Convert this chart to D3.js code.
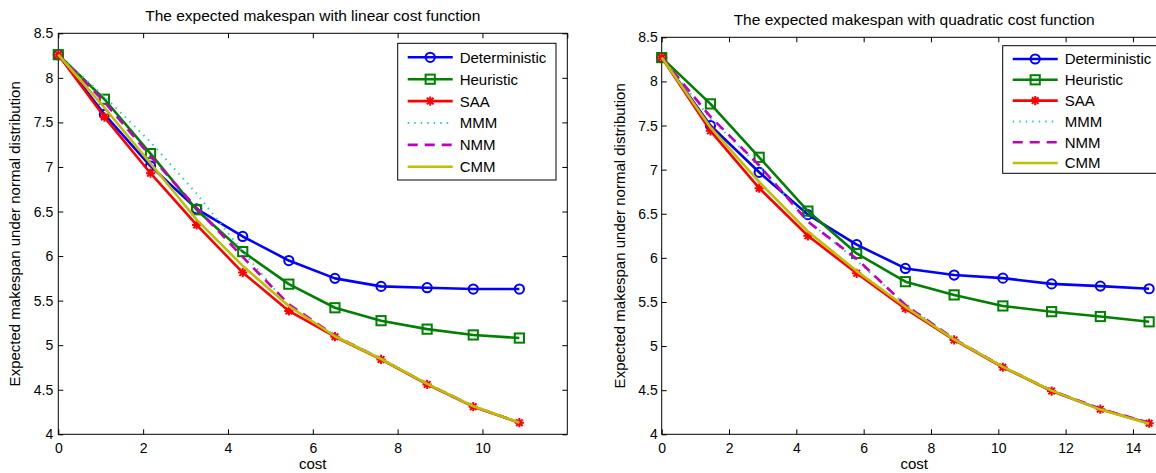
<!DOCTYPE html>
<html lang="en">
<head>
<meta charset="utf-8">
<title>Expected makespan</title>
<script src="https://cdn.jsdelivr.net/npm/d3@7"></script>
<style>
  body { margin: 0; background: #fff; }
  text { font-family: "Liberation Sans", Arial, sans-serif; fill: #000; }
</style>
</head>
<body>
<script>
// cost values
var costLinear = [0, 1.087, 2.174, 3.261, 4.348, 5.435, 6.522, 7.609, 8.696, 9.783, 10.87];
var costQuad = [0, 1.448, 2.896, 4.344, 5.792, 7.24, 8.688, 10.136, 11.584, 13.032, 14.48];

// linear cost function
var detL = [8.26, 7.59, 7.01, 6.53, 6.22, 5.95, 5.75, 5.66, 5.645, 5.63, 5.63];
var heuL = [8.26, 7.76, 7.15, 6.52, 6.05, 5.685, 5.42, 5.275, 5.18, 5.115, 5.08];
var saaL = [8.26, 7.56, 6.93, 6.35, 5.815, 5.385, 5.095, 4.84, 4.56, 4.31, 4.13];
var mmmL = [8.26, 7.79, 7.28, 6.70, 6.05, 5.44, 5.11, 4.85, 4.57, 4.32, 4.135];
var nmmL = [8.26, 7.73, 7.12, 6.54, 5.99, 5.46, 5.105, 4.845, 4.565, 4.315, 4.13];
var cmmL = [8.26, 7.665, 7.04, 6.41, 5.89, 5.44, 5.10, 4.845, 4.565, 4.315, 4.13];

// quadratic cost function
var detR = [8.27, 7.50, 6.97, 6.49, 6.15, 5.88, 5.805, 5.77, 5.705, 5.68, 5.65];
var heuR = [8.27, 7.745, 7.14, 6.53, 6.05, 5.73, 5.58, 5.455, 5.39, 5.335, 5.275];
var saaR = [8.27, 7.44, 6.79, 6.25, 5.825, 5.425, 5.07, 4.76, 4.49, 4.285, 4.125];
var mmmR = [8.27, 7.58, 7.04, 6.42, 5.97, 5.47, 5.085, 4.77, 4.50, 4.29, 4.13];
var nmmR = [8.27, 7.60, 7.05, 6.41, 5.99, 5.465, 5.08, 4.765, 4.495, 4.29, 4.13];
var cmmR = [8.27, 7.48, 6.86, 6.30, 5.85, 5.445, 5.075, 4.765, 4.495, 4.28, 4.12];

var names = ["Deterministic", "Heuristic", "SAA", "MMM", "NMM", "CMM"];
var yTicks = [4, 4.5, 5, 5.5, 6, 6.5, 7, 7.5, 8, 8.5];
var xTicksL = [0, 2, 4, 6, 8, 10, 12];
var xTicksR = [0, 2, 4, 6, 8, 10, 12, 14];

var styles = [
  { color: "#0000ff", dash: null, marker: "circle" },
  { color: "#008000", dash: null, marker: "square" },
  { color: "#ff0000", dash: null, marker: "star" },
  { color: "#33c9c9", dash: "1.5,5", marker: null },
  { color: "#bf00bf", dash: "10,7", marker: null },
  { color: "#bfbf00", dash: null, marker: null }
];

var W = 1156, H = 473;
var svg = d3.select("body").append("svg")
  .attr("width", W).attr("height", H);

function drawMarker(g, kind, cx, cy, color) {
  if (kind == "circle") {
    g.append("circle").attr("cx", cx).attr("cy", cy).attr("r", 4.6)
      .attr("fill", "none").attr("stroke", color).attr("stroke-width", 2);
  } else if (kind == "square") {
    g.append("rect").attr("x", cx - 4.6).attr("y", cy - 4.6)
      .attr("width", 9.2).attr("height", 9.2)
      .attr("fill", "none").attr("stroke", color).attr("stroke-width", 2);
  } else if (kind == "star") {
    var s = 4.6, d = 3.3;
    g.append("path")
      .attr("d", "M" + (cx - s) + "," + cy + "H" + (cx + s) +
                 "M" + cx + "," + (cy - s) + "V" + (cy + s) +
                 "M" + (cx - d) + "," + (cy - d) + "L" + (cx + d) + "," + (cy + d) +
                 "M" + (cx - d) + "," + (cy + d) + "L" + (cx + d) + "," + (cy - d))
      .attr("stroke", color).attr("stroke-width", 2).attr("fill", "none");
  }
}

function panel(p) {
  var x = d3.scaleLinear().domain(p.xDomain).range([p.left, p.right]);
  var y = d3.scaleLinear().domain([4, 8.5]).range([p.bottom, p.top]);
  var g = svg.append("g");

  // axes with inward ticks on all four sides
  var fontSize = "14px";
  g.append("g").attr("transform", "translate(0," + p.bottom + ")")
    .call(d3.axisBottom(x).tickValues(p.xTicks.filter(function(t) { return t < p.xDomain[1]; }))
      .tickSize(-5).tickPadding(9).tickFormat(d3.format("d")))
    .call(function(a) { a.select(".domain").remove(); a.selectAll("text").attr("font-size", fontSize); });
  g.append("g").attr("transform", "translate(0," + p.top + ")")
    .call(d3.axisTop(x).tickValues(p.xTicks).tickSize(-5).tickFormat(""))
    .call(function(a) { a.select(".domain").remove(); });
  g.append("g").attr("transform", "translate(" + p.left + ",0)")
    .call(d3.axisLeft(y).tickValues(yTicks).tickSize(-5).tickPadding(p.yPad)
      .tickFormat(function(d) { return d3.format("")(d); }))
    .call(function(a) { a.select(".domain").remove(); a.selectAll("text").attr("font-size", fontSize); });
  g.append("g").attr("transform", "translate(" + p.right + ",0)")
    .call(d3.axisRight(y).tickValues(yTicks).tickSize(-5).tickFormat(""))
    .call(function(a) { a.select(".domain").remove(); });
  g.selectAll(".tick line").attr("stroke", "#000");
  g.selectAll(".tick text").attr("fill", "#000")
    .attr("font-family", "'Liberation Sans', Arial, sans-serif");

  g.append("rect").attr("x", p.left).attr("y", p.top)
    .attr("width", p.right - p.left).attr("height", p.bottom - p.top)
    .attr("fill", "none").attr("stroke", "#000").attr("stroke-width", 1);

  // series
  var line = d3.line()
    .x(function(d) { return x(d[0]); })
    .y(function(d) { return y(d[1]); });

  p.series.forEach(function(vals, i) {
    var st = styles[i];
    var pts = p.cost.map(function(c, j) { return [c, vals[j]]; });
    g.append("path").datum(pts)
      .attr("d", line)
      .attr("fill", "none")
      .attr("stroke", st.color)
      .attr("stroke-width", st.dash && st.dash.indexOf("1.5") == 0 ? 2 : 2.6)
      .attr("stroke-dasharray", st.dash)
      .attr("stroke-linejoin", "round");
    if (st.marker) {
      pts.forEach(function(d) { drawMarker(g, st.marker, x(d[0]), y(d[1]), st.color); });
    }
  });

  // labels
  g.append("text").attr("x", (p.left + p.right) / 2).attr("y", p.top - 12)
    .attr("text-anchor", "middle").attr("font-size", "15.5px").text(p.title);
  g.append("text").attr("x", (p.left + p.right) / 2).attr("y", 469)
    .attr("text-anchor", "middle").attr("font-size", "15px").text("cost");
  g.append("text")
    .attr("transform", "translate(" + p.yLabelX + "," + ((p.top + p.bottom) / 2) + ") rotate(-90)")
    .attr("text-anchor", "middle").attr("dy", "0.35em").attr("font-size", "15px")
    .text("Expected makespan under normal distribution");

  // legend
  var lg = g.append("g");
  lg.append("rect").attr("x", p.leg.x).attr("y", p.leg.y)
    .attr("width", p.leg.w).attr("height", p.leg.h)
    .attr("fill", "#fff").attr("stroke", "#000").attr("stroke-width", 1);
  names.forEach(function(n, i) {
    var st = styles[i];
    var ly = p.leg.y + p.leg.first + i * p.leg.step;
    var x0 = p.leg.x + 10, x1 = x0 + 45;
    lg.append("line").attr("x1", x0).attr("x2", x1).attr("y1", ly).attr("y2", ly)
      .attr("stroke", st.color)
      .attr("stroke-width", st.dash && st.dash.indexOf("1.5") == 0 ? 2 : 2.6)
      .attr("stroke-dasharray", st.dash);
    if (st.marker) drawMarker(lg, st.marker, (x0 + x1) / 2, ly, st.color);
    lg.append("text").attr("x", x1 + 7).attr("y", ly).attr("dy", "0.36em")
      .attr("font-size", "15px").text(n);
  });
}

panel({
  left: 58.3, right: 567.3, top: 33.3, bottom: 434.3,
  xDomain: [0, 12], xTicks: xTicksL, yPad: 5, yLabelX: 15,
  cost: costLinear,
  series: [detL, heuL, saaL, mmmL, nmmL, cmmL],
  title: "The expected makespan with linear cost function",
  leg: { x: 397.7, y: 43.3, w: 158.3, h: 136.7, first: 14, step: 21.9 }
});

panel({
  left: 661.7, right: 1166.6, top: 37.3, bottom: 434.3,
  xDomain: [0, 15], xTicks: xTicksR, yPad: 4, yLabelX: 619.3,
  cost: costQuad,
  series: [detR, heuR, saaR, mmmR, nmmR, cmmR],
  title: "The expected makespan with quadratic cost function",
  leg: { x: 1002.7, y: 45.7, w: 158.3, h: 127.6, first: 13.3, step: 20.8 }
});
</script>
</body>
</html>
